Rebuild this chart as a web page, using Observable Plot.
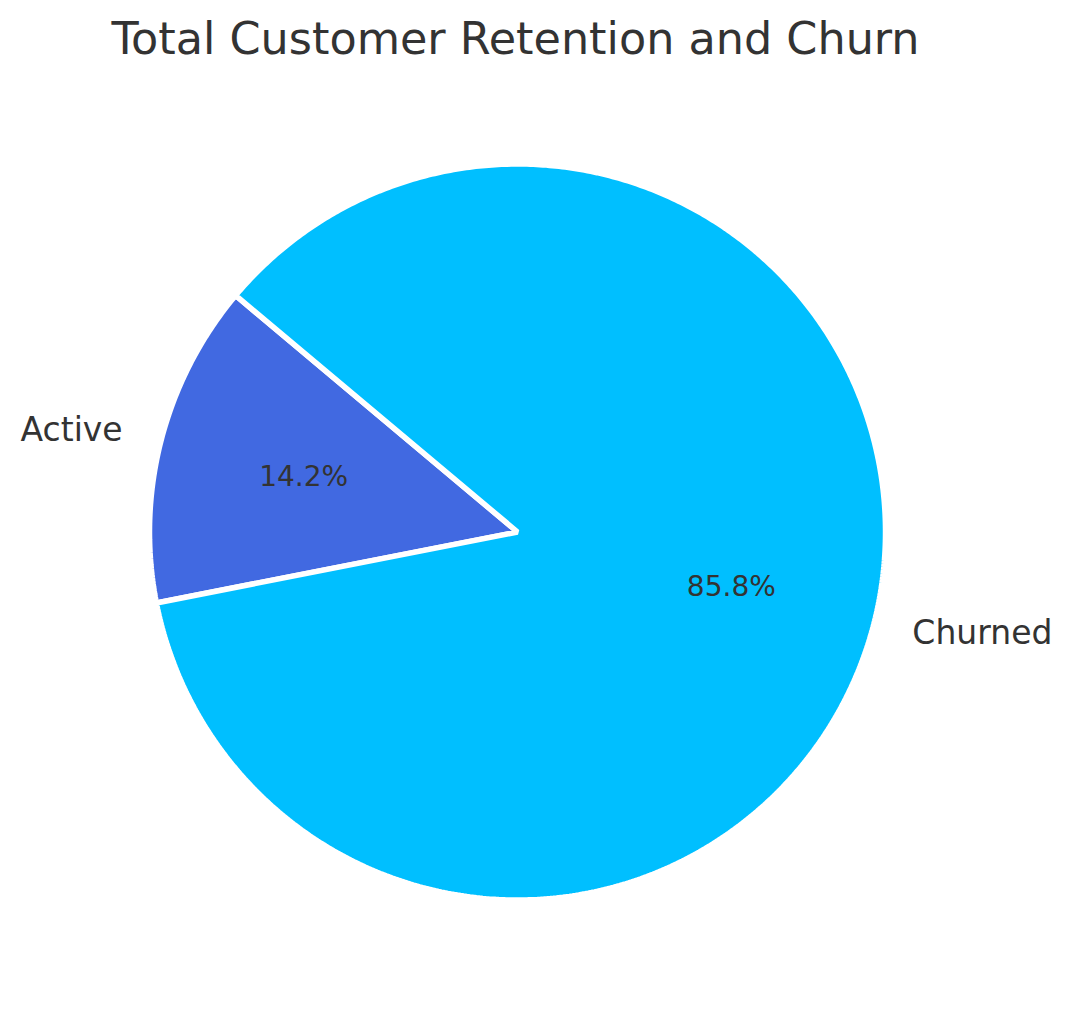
<!DOCTYPE html>
<html>
<head>
<meta charset="utf-8">
<script src="https://cdn.jsdelivr.net/npm/d3@7"></script>
<script src="https://cdn.jsdelivr.net/npm/@observablehq/plot@0.6"></script>
<style>
  html, body { margin: 0; padding: 0; background: #fff; }
  #wrap { width: 1071px; height: 1014px; overflow: hidden; }
  h1 { margin: 0; width: 1031px; height: 80px; line-height: 77px; text-align: center;
       font-family: "DejaVu Sans", sans-serif; font-weight: normal; font-size: 44.5px; color: #333333; }
</style>
</head>
<body>
<div id="wrap">
<h1>Total Customer Retention and Churn</h1>
<div id="chart"></div>
</div>
<script>
const labels = ["Active", "Churned"];
const shares = [14.2, 85.8];
const colors = ["#4169E1", "#00BFFF"];
const startAngle = 140;

// Build wedge polygons from the data (angles CCW from +x, degrees)
const total = d3.sum(shares);
const wedges = [];
const labelRows = [];
let a0 = startAngle;
labels.forEach((lab, i) => {
  const sweep = shares[i] / total * 360;
  const a1 = a0 + sweep;
  wedges.push({label: lab, x: 0, y: 0});
  const n = Math.max(2, Math.ceil(sweep * 2));
  for (let k = 0; k <= n; k++) {
    const t = (a0 + (a1 - a0) * k / n) * Math.PI / 180;
    wedges.push({label: lab, x: Math.cos(t), y: Math.sin(t)});
  }
  const mid = (a0 + a1) / 2 * Math.PI / 180;
  labelRows.push({
    label: lab,
    pct: (shares[i] / total * 100).toFixed(1) + "%",
    lx: 1.108 * Math.cos(mid), ly: 1.108 * Math.sin(mid),
    px: 0.6 * Math.cos(mid), py: 0.6 * Math.sin(mid),
    anchor: Math.cos(mid) < 0 ? "end" : "start"
  });
  a0 = a1;
});

const chart = Plot.plot({
  width: 1071,
  height: 934,
  margin: 0,
  style: {background: "transparent", fontFamily: "DejaVu Sans, sans-serif"},
  x: {domain: [-1.4049, 1.5054], axis: null},
  y: {domain: [-1.3111, 1.2269], axis: null},
  color: {domain: labels, range: colors},
  marks: [
    Plot.line(wedges, {x: "x", y: "y", z: "label", fill: "label", stroke: "white",
      strokeWidth: 5.5, strokeLinejoin: "miter", curve: "linear-closed"}),
    Plot.text(labelRows.filter(d => d.anchor === "end"), {x: "lx", y: "ly", text: "label",
      textAnchor: "end", fontSize: 33, fill: "#333333"}),
    Plot.text(labelRows.filter(d => d.anchor === "start"), {x: "lx", y: "ly", text: "label",
      textAnchor: "start", fontSize: 33, fill: "#333333"}),
    Plot.text(labelRows, {x: "px", y: "py", text: "pct", fontSize: 28, fill: "#333333"})
  ]
});
document.getElementById("chart").appendChild(chart);
</script>
</body>
</html>
